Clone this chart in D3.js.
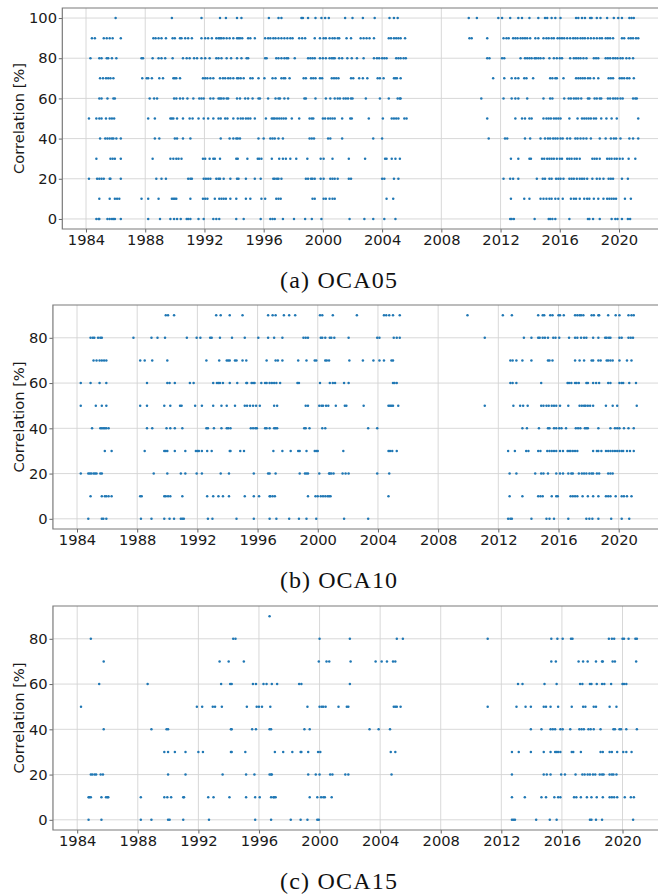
<!DOCTYPE html>
<html>
<head>
<meta charset="utf-8">
<script src="https://cdn.jsdelivr.net/npm/d3@7"></script>
<style>
  html, body { margin: 0; padding: 0; background: #fff; }
  svg { display: block; }
</style>
</head>
<body>
<div id="chart"></div>
<script>
// Dates (decimal years) of each correlation level

// (a) OCA05
const a100 = [1986.0,1989.8,1991.8,1993.05,1993.45,1994.2,1994.5,1996.35,1997.0,1997.2,1998.55,1998.65,1999.0,1999.5,1999.9,2000.15,2000.4,2001.5,2002.0,2002.7,2003.5,2004.5,2004.8,2005.05,2009.85,2010.4,2011.85,2012.1,2012.65,2013.2,2013.45,2013.95,2014.55,2015.0,2015.15,2015.45,2015.7,2016.05,2017.1,2017.25,2017.5,2017.7,2018.05,2018.15,2018.5,2018.75,2019.2,2019.65,2019.95,2020.2,2020.7,2020.85,2021.0];
const a90 = [1984.4,1984.6,1985.2,1985.4,1985.6,1985.8,1986.35,1988.55,1988.7,1988.9,1989.1,1989.4,1989.85,1990.0,1990.35,1990.45,1990.7,1990.9,1991.15,1991.8,1992.05,1992.25,1992.5,1992.8,1992.95,1993.05,1993.15,1993.3,1993.5,1993.7,1993.95,1994.2,1994.3,1994.4,1994.55,1994.95,1995.1,1995.4,1996.1,1996.3,1996.45,1996.65,1996.8,1997.0,1997.2,1997.4,1997.6,1997.8,1997.95,1998.4,1998.6,1998.8,1999.45,1999.8,2000.05,2000.2,2000.45,2000.65,2000.8,2001.0,2001.1,2001.6,2001.9,2002.55,2002.75,2002.95,2003.15,2003.45,2004.45,2004.6,2004.8,2004.95,2005.1,2005.25,2005.55,2009.9,2010.05,2011.1,2012.2,2012.4,2012.55,2012.85,2013.0,2013.15,2013.35,2013.5,2013.65,2013.8,2014.0,2014.35,2014.55,2014.9,2015.1,2015.25,2015.45,2015.6,2015.85,2016.0,2016.15,2016.3,2016.5,2016.7,2016.9,2017.05,2017.2,2017.4,2017.55,2017.7,2017.9,2018.1,2018.3,2018.5,2018.7,2018.85,2019.1,2019.25,2019.4,2019.6,2020.2,2020.35,2020.65,2020.8,2020.95,2021.15,2021.3];
const a80 = [1984.3,1984.9,1985.05,1985.4,1985.5,1985.75,1986.05,1987.75,1987.85,1988.5,1988.9,1989.1,1989.35,1989.85,1990.55,1990.8,1991.0,1991.3,1991.5,1991.8,1992.05,1992.35,1992.8,1992.95,1993.15,1993.5,1993.8,1994.2,1994.5,1994.85,1994.95,1996.1,1996.2,1996.85,1997.0,1997.2,1997.4,1997.55,1997.65,1998.1,1999.0,1999.15,1999.3,1999.45,1999.8,2000.0,2000.2,2000.45,2000.6,2000.7,2000.8,2001.1,2001.3,2001.65,2001.95,2002.3,2002.75,2003.45,2003.65,2003.8,2004.0,2004.15,2004.3,2004.95,2005.1,2005.25,2005.45,2005.6,2011.1,2011.25,2012.1,2012.25,2013.35,2013.65,2013.8,2013.95,2014.1,2014.3,2014.4,2014.55,2014.7,2014.9,2015.3,2015.6,2015.8,2016.0,2016.15,2016.7,2016.95,2017.1,2017.25,2017.4,2017.6,2017.8,2018.3,2018.45,2018.6,2019.1,2019.25,2019.4,2019.6,2019.75,2019.9,2020.1,2020.25,2020.5,2020.7,2020.95];
const a70 = [1984.95,1985.15,1985.35,1985.5,1985.65,1985.85,1987.8,1988.1,1988.2,1988.45,1988.95,1989.2,1989.9,1990.0,1990.1,1990.35,1991.9,1992.05,1992.2,1992.4,1992.6,1993.05,1993.25,1993.4,1993.6,1993.75,1993.95,1994.2,1994.3,1994.45,1994.65,1995.1,1995.25,1995.65,1996.05,1996.6,1996.8,1997.2,1997.35,1997.45,1997.75,1998.7,1998.85,1999.2,1999.35,1999.5,1999.8,1999.95,2000.6,2000.75,2000.9,2001.05,2001.9,2002.05,2002.45,2002.7,2003.0,2003.7,2003.85,2004.1,2004.8,2004.9,2005.0,2005.25,2011.5,2012.25,2012.75,2013.0,2013.2,2013.6,2013.75,2014.2,2015.35,2015.5,2015.7,2015.8,2016.25,2017.1,2017.25,2017.4,2017.55,2017.7,2017.9,2018.05,2018.3,2018.6,2019.3,2019.45,2019.6,2020.05,2020.2,2020.35,2020.55,2020.7,2021.0];
const a60 = [1984.9,1985.05,1985.45,1985.85,1985.95,1988.3,1988.6,1988.8,1989.95,1990.1,1990.35,1990.55,1990.85,1991.25,1991.65,1991.8,1991.95,1992.4,1992.6,1992.95,1993.05,1993.15,1993.3,1993.5,1993.6,1994.2,1994.4,1994.75,1994.95,1995.25,1995.65,1995.75,1996.3,1996.8,1997.0,1997.1,1997.4,1997.65,1998.75,1998.85,1999.5,2000.2,2000.5,2000.8,2001.0,2001.15,2001.4,2001.55,2001.7,2001.9,2002.0,2002.9,2003.85,2004.45,2005.05,2005.2,2005.25,2010.7,2012.2,2012.75,2013.0,2013.2,2013.8,2014.9,2015.35,2015.5,2016.3,2016.6,2016.75,2016.95,2017.1,2017.25,2017.45,2017.9,2018.0,2018.35,2018.5,2018.7,2018.8,2019.25,2019.4,2019.6,2019.75,2019.9,2020.1,2020.25,2020.95,2021.1,2021.2];
const a50 = [1984.2,1984.7,1984.9,1985.05,1985.35,1985.6,1985.75,1985.9,1988.2,1988.65,1989.7,1989.8,1989.9,1990.15,1990.55,1991.0,1991.2,1991.6,1991.95,1992.25,1992.6,1992.95,1993.1,1993.4,1993.55,1993.95,1994.25,1994.45,1994.6,1994.8,1994.95,1995.1,1995.4,1996.15,1996.55,1996.65,1996.75,1996.9,1997.05,1997.2,1997.35,1997.5,1997.9,1998.4,1999.1,1999.25,1999.35,2000.0,2000.15,2000.35,2000.5,2000.65,2000.8,2001.3,2001.85,2001.95,2003.1,2004.05,2004.65,2004.8,2004.95,2005.1,2005.5,2005.65,2011.1,2013.0,2013.45,2013.65,2013.95,2014.1,2014.9,2015.1,2015.25,2015.4,2015.6,2015.75,2015.9,2016.05,2016.65,2017.2,2017.5,2017.65,2017.8,2017.95,2018.1,2018.3,2018.45,2018.8,2019.15,2019.5,2019.85,2021.3];
const a40 = [1984.95,1985.3,1985.45,1985.6,1985.75,1985.85,1986.05,1986.35,1988.65,1988.95,1990.0,1990.15,1990.55,1991.05,1993.1,1993.7,1993.95,1994.15,1994.25,1994.4,1995.65,1996.0,1996.45,1996.6,1996.75,1997.0,1997.3,1999.1,1999.25,1999.4,2000.35,2000.5,2001.3,2003.4,2004.0,2011.2,2012.3,2012.45,2013.65,2014.0,2014.7,2015.0,2015.2,2015.35,2015.55,2015.7,2015.85,2016.05,2016.2,2016.5,2016.7,2017.05,2017.2,2017.4,2017.6,2017.8,2018.1,2018.7,2019.1,2019.45,2019.65,2019.8,2020.1,2020.7,2020.95,2021.3];
const a30 = [1984.7,1985.65,1985.8,1985.95,1986.35,1988.5,1989.7,1989.9,1990.1,1990.25,1990.45,1991.9,1992.05,1992.35,1992.6,1992.7,1993.05,1994.15,1994.25,1994.9,1995.6,1995.7,1995.85,1996.55,1997.05,1997.3,1997.5,1997.8,1998.2,1998.95,1999.85,2000.05,2000.65,2001.75,2002.85,2004.2,2004.3,2004.65,2004.9,2005.2,2012.7,2013.2,2013.95,2014.05,2014.8,2014.95,2015.15,2015.3,2015.45,2015.6,2015.8,2016.0,2016.15,2016.5,2016.65,2016.8,2017.0,2017.15,2017.35,2018.2,2018.35,2018.5,2018.7,2019.2,2019.35,2019.5,2019.7,2019.85,2020.05,2020.25,2020.65,2021.1];
const a20 = [1984.2,1984.75,1984.9,1985.05,1985.2,1985.6,1985.65,1986.35,1988.75,1989.1,1989.4,1990.9,1991.05,1991.15,1991.95,1992.1,1992.25,1992.4,1992.8,1992.95,1993.05,1993.3,1993.75,1994.2,1994.3,1994.8,1995.4,1995.8,1996.65,1996.75,1996.9,1997.0,1997.2,1998.85,1999.0,1999.2,1999.3,1999.45,1999.85,2000.05,2000.5,2000.65,2000.8,2001.0,2001.75,2001.9,2004.0,2004.15,2004.8,2005.1,2012.2,2012.65,2012.85,2013.2,2014.45,2014.85,2015.0,2015.3,2015.45,2015.75,2015.9,2016.05,2016.25,2016.65,2016.8,2016.95,2017.15,2017.35,2017.5,2017.65,2017.85,2018.2,2018.5,2018.7,2018.95,2019.3,2019.45,2019.6,2020.2,2020.6];
const a10 = [1984.9,1985.6,1985.95,1986.1,1986.25,1987.75,1988.2,1988.9,1989.8,1989.9,1990.0,1990.1,1991.05,1991.9,1992.05,1992.2,1992.7,1993.0,1993.15,1993.3,1993.45,1993.75,1994.15,1994.8,1995.1,1995.85,1996.1,1996.85,1997.0,1997.15,1999.3,1999.45,2000.05,2000.2,2000.45,2000.65,2000.8,2004.3,2004.75,2012.7,2013.6,2013.95,2014.7,2014.9,2015.1,2015.3,2015.45,2015.7,2015.9,2016.2,2016.75,2016.95,2017.1,2017.35,2017.65,2017.85,2018.0,2018.3,2018.6,2018.95,2019.2,2019.35,2019.5,2019.65,2019.8,2020.4,2020.8];
const a0 = [1984.7,1984.85,1984.9,1985.45,1985.6,1985.75,1985.85,1985.95,1986.35,1988.2,1989.0,1989.7,1989.95,1990.15,1990.4,1990.8,1990.9,1991.05,1991.6,1991.95,1992.6,1992.8,1993.0,1994.15,1994.65,1995.8,1996.45,1996.6,1996.75,1997.3,1998.05,1998.8,1999.25,1999.9,2001.8,2002.8,2003.4,2004.15,2004.9,2012.65,2012.75,2012.9,2014.3,2015.25,2015.35,2015.5,2015.7,2016.65,2017.9,2018.0,2018.25,2018.7,2019.5,2019.75,2019.9,2020.2,2020.6,2020.75];

// (b) OCA10
const b90 = [1989.9,1990.05,1990.45,1993.25,1993.55,1994.15,1995.0,1996.7,1997.0,1997.2,1997.75,1998.1,1998.5,2000.15,2000.3,2001.0,2002.6,2004.4,2004.55,2004.75,2005.0,2005.45,2009.95,2012.3,2012.9,2014.65,2014.95,2015.05,2015.45,2015.6,2016.0,2016.1,2016.35,2017.1,2017.25,2017.4,2017.5,2017.65,2018.2,2018.35,2018.65,2018.7,2019.3,2019.8,2020.05,2020.65,2020.85,2021.0];
const b80 = [1984.9,1985.05,1985.15,1985.4,1985.55,1985.65,1987.75,1988.95,1989.35,1989.85,1991.3,1991.95,1992.2,1992.85,1992.95,1993.5,1994.3,1995.15,1996.05,1996.7,1997.1,1997.65,1999.05,1999.2,1999.35,2000.2,2000.3,2000.5,2000.8,2000.9,2001.1,2002.05,2003.95,2004.1,2005.05,2005.25,2005.45,2011.1,2013.7,2014.2,2014.65,2014.75,2014.95,2015.1,2015.3,2015.65,2015.8,2016.05,2016.7,2017.1,2017.25,2017.5,2017.7,2017.85,2018.3,2018.65,2019.1,2019.2,2019.35,2019.45,2020.05,2020.2,2020.65,2020.8,2020.95];
const b70 = [1985.1,1985.3,1985.5,1985.65,1985.8,1985.95,1988.2,1988.5,1989.0,1990.0,1992.6,1993.45,1993.95,1994.05,1994.15,1994.5,1994.6,1995.0,1995.25,1996.6,1997.2,1997.35,1997.65,1998.7,1999.25,1999.8,1999.9,2000.5,2000.6,2000.75,2002.1,2003.0,2003.7,2004.1,2004.4,2004.9,2005.0,2012.8,2012.95,2013.2,2013.6,2014.2,2015.3,2015.4,2015.6,2017.1,2017.4,2017.7,2018.2,2018.3,2018.65,2018.8,2019.2,2019.3,2019.45,2019.6,2020.05,2020.55,2020.85];
const b60 = [1984.25,1984.9,1985.5,1985.95,1988.65,1990.0,1990.15,1990.5,1991.5,1991.75,1993.05,1993.3,1993.4,1993.5,1993.7,1994.15,1994.65,1995.25,1995.3,1995.6,1995.7,1995.8,1996.25,1996.5,1996.6,1996.8,1996.95,1997.1,1997.25,1997.5,1998.65,1998.75,2000.15,2000.8,2001.0,2001.15,2001.75,2002.05,2005.0,2005.1,2005.25,2012.8,2012.95,2013.2,2014.85,2016.6,2016.7,2016.85,2017.1,2017.2,2017.35,2017.85,2017.95,2018.3,2018.5,2018.7,2019.3,2019.45,2020.05,2020.2,2020.3,2020.7,2021.15];
const b50 = [1984.25,1985.25,1985.65,1985.95,1988.2,1988.65,1989.8,1990.2,1990.85,1990.95,1991.85,1992.3,1993.05,1993.6,1993.95,1994.5,1995.15,1995.3,1995.5,1995.7,1995.9,1996.15,1997.1,1997.3,1999.2,1999.35,2000.1,2000.25,2000.35,2000.55,2000.7,2001.2,2001.8,2001.9,2003.05,2004.7,2004.8,2004.9,2005.0,2005.35,2011.1,2013.0,2013.45,2013.65,2013.95,2014.85,2015.0,2015.2,2015.35,2015.55,2015.7,2015.85,2016.1,2016.65,2017.4,2017.55,2017.7,2017.8,2017.95,2018.1,2018.3,2019.15,2019.6,2019.9,2021.2];
const b40 = [1985.0,1985.55,1985.65,1985.75,1985.85,1985.95,1986.1,1988.65,1989.0,1989.95,1990.2,1990.5,1991.0,1992.6,1992.7,1993.1,1993.6,1993.95,1994.05,1994.2,1995.55,1995.7,1995.85,1995.95,1996.5,1996.6,1996.8,1997.1,1997.2,1997.3,1999.1,1999.2,1999.45,2000.3,2000.5,2003.35,2003.95,2013.6,2013.9,2014.7,2015.3,2015.4,2015.7,2015.85,2016.05,2016.2,2016.5,2017.15,2017.3,2017.45,2017.75,2017.85,2017.95,2018.65,2019.45,2019.75,2019.9,2020.05,2020.35,2020.65,2021.0];
const b30 = [1985.85,1986.3,1988.5,1989.8,1989.9,1990.0,1990.5,1991.2,1991.9,1992.0,1992.1,1992.3,1992.65,1992.95,1994.15,1994.2,1994.85,1995.1,1997.05,1997.65,1998.2,1998.7,1998.8,1999.25,1999.8,1999.9,2000.0,2001.7,2004.7,2004.8,2004.95,2005.25,2012.65,2013.1,2013.85,2014.0,2014.65,2014.8,2015.25,2015.4,2015.55,2015.7,2015.85,2016.1,2016.3,2016.6,2016.7,2016.8,2016.95,2017.1,2017.25,2018.3,2018.55,2018.65,2018.85,2019.15,2019.3,2019.45,2019.6,2019.75,2019.9,2020.05,2020.2,2020.3,2020.55,2020.75,2021.0];
const b20 = [1984.25,1984.75,1984.85,1984.95,1985.1,1985.2,1985.3,1985.55,1985.65,1989.1,1990.0,1990.9,1991.2,1991.95,1992.3,1993.55,1994.1,1995.75,1996.7,1996.8,1997.2,1998.8,1999.15,1999.25,1999.35,2000.1,2000.75,2000.8,2000.9,2001.05,2001.65,2001.85,2002.05,2003.95,2004.75,2012.75,2013.2,2014.45,2014.85,2015.0,2015.3,2015.85,2016.1,2016.3,2016.65,2016.85,2016.95,2017.35,2017.55,2017.7,2017.85,2018.05,2018.2,2018.3,2018.55,2018.7,2019.3,2019.45,2019.6];
const b10 = [1984.9,1985.65,1985.85,1985.95,1986.1,1986.3,1988.2,1988.3,1989.8,1989.9,1990.05,1990.2,1991.0,1992.65,1993.05,1993.4,1993.7,1994.1,1995.15,1995.75,1996.1,1996.8,1996.85,1997.0,1997.15,1999.35,1999.85,2000.0,2000.2,2000.35,2000.5,2000.65,2000.75,2000.85,2004.7,2012.75,2013.6,2014.65,2014.8,2014.95,2015.55,2015.85,2015.95,2016.8,2016.95,2017.1,2017.25,2017.6,2017.95,2018.3,2018.65,2019.15,2019.3,2019.45,2019.8,2020.2,2020.35,2020.55,2020.85];
const b0 = [1984.75,1985.65,1985.75,1985.95,1988.25,1988.95,1989.8,1990.15,1990.45,1990.9,1991.0,1991.1,1992.7,1993.0,1994.6,1995.75,1996.8,1997.25,1998.1,1998.75,1999.25,1999.9,2001.75,2003.35,2012.65,2012.8,2012.9,2014.2,2015.2,2015.4,2015.7,2016.65,2017.85,2018.05,2018.25,2018.65,2019.5,2020.2,2020.7];

// (c) OCA15
const c90 = [1996.7];
const c80 = [1984.9,1994.3,1994.45,2000.0,2002.0,2005.1,2005.5,2011.1,2015.3,2015.7,2016.05,2016.6,2016.7,2019.1,2019.3,2019.45,2020.0,2020.1,2020.4,2020.85,2020.95];
const c70 = [1985.75,1993.4,1994.0,1995.0,1999.95,2000.46,2000.64,2002.05,2003.7,2004.1,2004.45,2004.85,2005.0,2015.3,2015.6,2017.1,2017.4,2017.7,2018.25,2018.65,2018.7,2019.35,2019.5,2020.9];
const c60 = [1985.45,1988.65,1993.5,1994.1,1994.2,1995.6,1995.8,1996.3,1996.5,1996.85,1997.2,1998.65,1998.8,2002.0,2013.1,2013.4,2014.85,2015.65,2017.2,2017.35,2017.85,2017.95,2018.3,2018.65,2018.8,2019.25,2020.0,2020.1,2020.25];
const c50 = [1984.25,1991.9,1992.25,1992.95,1993.1,1993.55,1995.2,1995.85,1996.0,1996.2,1996.75,1999.2,2000.0,2000.15,2000.25,2000.4,2001.25,2001.8,2001.9,2004.9,2005.0,2005.1,2005.35,2011.1,2013.0,2013.6,2013.95,2014.8,2014.95,2015.25,2015.75,2016.65,2017.4,2017.55,2018.1,2018.25,2019.15,2019.6];
const c40 = [1985.75,1988.9,1989.9,1990.0,1994.15,1994.2,1995.55,1995.8,1996.7,1996.8,1999.0,1999.35,2003.3,2003.9,2004.65,2013.95,2014.65,2015.25,2015.4,2015.55,2015.9,2016.05,2016.55,2017.15,2017.3,2017.45,2017.75,2017.9,2018.1,2018.55,2019.4,2019.5,2019.8,2019.9,2020.25,2020.95];
const c30 = [1989.75,1990.0,1990.45,1991.15,1992.0,1992.3,1994.15,1994.2,1995.1,1997.05,1997.6,1998.2,1998.75,1998.8,1999.25,1999.9,2000.05,2004.7,2005.0,2012.7,2013.15,2013.95,2014.8,2015.25,2015.55,2015.65,2015.75,2015.9,2016.65,2016.75,2017.25,2018.55,2018.7,2019.15,2019.3,2019.65,2020.05,2020.25,2020.6];
const c20 = [1984.9,1985.0,1985.15,1985.25,1985.55,1985.7,1990.0,1991.15,1993.6,1995.15,1995.7,1996.7,1996.8,1996.85,1999.25,1999.75,2000.0,2000.7,2000.85,2001.7,2001.9,2004.75,2012.7,2014.8,2015.0,2015.25,2015.95,2016.2,2016.9,2017.35,2017.5,2017.7,2017.85,2018.05,2018.2,2018.5,2018.65,2018.75,2019.15,2019.3,2019.4,2019.6];
const c10 = [1984.75,1984.8,1984.9,1985.6,1985.9,1986.0,1986.05,1988.2,1989.75,1989.95,1990.2,1991.0,1991.05,1992.65,1993.0,1994.05,1995.15,1995.75,1996.05,1996.8,1996.95,1997.0,1997.1,1999.35,1999.85,2000.1,2000.25,2000.35,2000.8,2012.7,2013.55,2014.65,2014.95,2015.5,2015.75,2015.9,2016.8,2016.95,2017.25,2017.65,2017.95,2018.3,2018.7,2019.15,2019.3,2019.45,2019.65,2020.15,2020.55,2020.75];
const c0 = [1984.75,1985.6,1988.2,1988.9,1990.0,1990.1,1991.0,1992.7,1995.75,1996.8,1998.1,1998.75,1999.2,1999.85,1999.95,2012.7,2012.8,2012.9,2014.3,2015.2,2015.65,2017.85,2017.95,2018.25,2018.65,2020.7];

const yearTicks = [1984, 1988, 1992, 1996, 2000, 2004, 2008, 2012, 2016, 2020];
const xDomain = [1982.4, 2023.15];

const panels = [
    { caption: "(a) OCA05", yMax: 100, yTicks: [0, 20, 40, 60, 80, 100],
      rows: [[0, a0], [10, a10], [20, a20], [30, a30], [40, a40], [50, a50], [60, a60], [70, a70], [80, a80], [90, a90], [100, a100]],
      top: 8, bottom: 229, x1984: 86, x2020: 619 },
    { caption: "(b) OCA10", yMax: 90, yTicks: [0, 20, 40, 60, 80],
      rows: [[0, b0], [10, b10], [20, b20], [30, b30], [40, b40], [50, b50], [60, b60], [70, b70], [80, b80], [90, b90]],
      top: 305, bottom: 529, x1984: 77, x2020: 618.7 },
    { caption: "(c) OCA15", yMax: 90, yTicks: [0, 20, 40, 60, 80],
      rows: [[0, c0], [10, c10], [20, c20], [30, c30], [40, c40], [50, c50], [60, c60], [70, c70], [80, c80], [90, c90]],
      top: 606, bottom: 830, x1984: 77.2, x2020: 622.5 }
];

const W = 658, H = 896;
const svg = d3.select("#chart").append("svg")
    .attr("width", W)
    .attr("height", H)
    .attr("viewBox", [0, 0, W, H]);

svg.append("rect").attr("width", W).attr("height", H).attr("fill", "#fff");

const font = "DejaVu Sans";
const fontSize = 14.7;

panels.forEach(p => {
    // pixels per year from the two tick positions
    const k = (p.x2020 - p.x1984) / 36;
    const x = d3.scaleLinear()
        .domain(xDomain)
        .range([p.x1984 + (xDomain[0] - 1984) * k, p.x1984 + (xDomain[1] - 1984) * k]);
    const y = d3.scaleLinear()
        .domain([-0.05 * p.yMax, 1.05 * p.yMax])
        .range([p.bottom, p.top]);

    const [x0, x1] = x.range();
    const g = svg.append("g");

    // grid
    g.append("g")
        .selectAll("line")
        .data(yearTicks)
        .join("line")
        .attr("x1", d => x(d)).attr("x2", d => x(d))
        .attr("y1", p.top).attr("y2", p.bottom)
        .attr("stroke", "#d4d4d4").attr("stroke-width", 0.9);

    g.append("g")
        .selectAll("line")
        .data(p.yTicks)
        .join("line")
        .attr("x1", x0).attr("x2", x1)
        .attr("y1", d => y(d)).attr("y2", d => y(d))
        .attr("stroke", "#d4d4d4").attr("stroke-width", 0.9);

    // points
    const pts = p.rows.flatMap(([lvl, yrs]) => yrs.map(t => ({ t, lvl })));
    g.append("g")
        .selectAll("circle")
        .data(pts)
        .join("circle")
        .attr("cx", d => x(d.t))
        .attr("cy", d => y(d.lvl))
        .attr("r", 1.25)
        .attr("fill", "#1f77b4");

    // axes
    const ax = g.append("g")
        .attr("transform", `translate(0,${p.bottom})`)
        .call(d3.axisBottom(x).tickValues(yearTicks).tickFormat(d3.format("d"))
            .tickSize(3.5).tickPadding(2.2));
    const ay = g.append("g")
        .attr("transform", `translate(${x0},0)`)
        .call(d3.axisLeft(y).tickValues(p.yTicks).tickSize(3.5).tickPadding(1.8));

    [ax, ay].forEach(a => {
        a.attr("font-family", font).attr("font-size", fontSize);
        a.select(".domain").remove();
        a.selectAll(".tick line").attr("stroke", "#555").attr("stroke-width", 0.9);
        a.selectAll(".tick text").attr("fill", "#1a1a1a");
    });

    // spines: left, bottom, top (right edge is cut off)
    g.append("path")
        .attr("d", `M${x1},${p.top}H${x0}V${p.bottom}H${x1}`)
        .attr("fill", "none")
        .attr("stroke", "#7a7a7a")
        .attr("stroke-width", 1.2);

    // y label
    g.append("text")
        .attr("transform", `translate(18.5,${(p.top + p.bottom) / 2}) rotate(-90)`)
        .attr("text-anchor", "middle")
        .attr("dy", "0.35em")
        .attr("fill", "#1a1a1a")
        .attr("font-family", font)
        .attr("font-size", fontSize)
        .text("Correlation [%]");

    // caption
    g.append("text")
        .attr("x", 338.5)
        .attr("y", p.bottom + 59)
        .attr("text-anchor", "middle")
        .attr("textLength", 117)
        .attr("lengthAdjust", "spacing")
        .attr("fill", "#111")
        .attr("font-family", "Liberation Serif")
        .attr("font-size", 24)
        .text(p.caption);
});
</script>
</body>
</html>
